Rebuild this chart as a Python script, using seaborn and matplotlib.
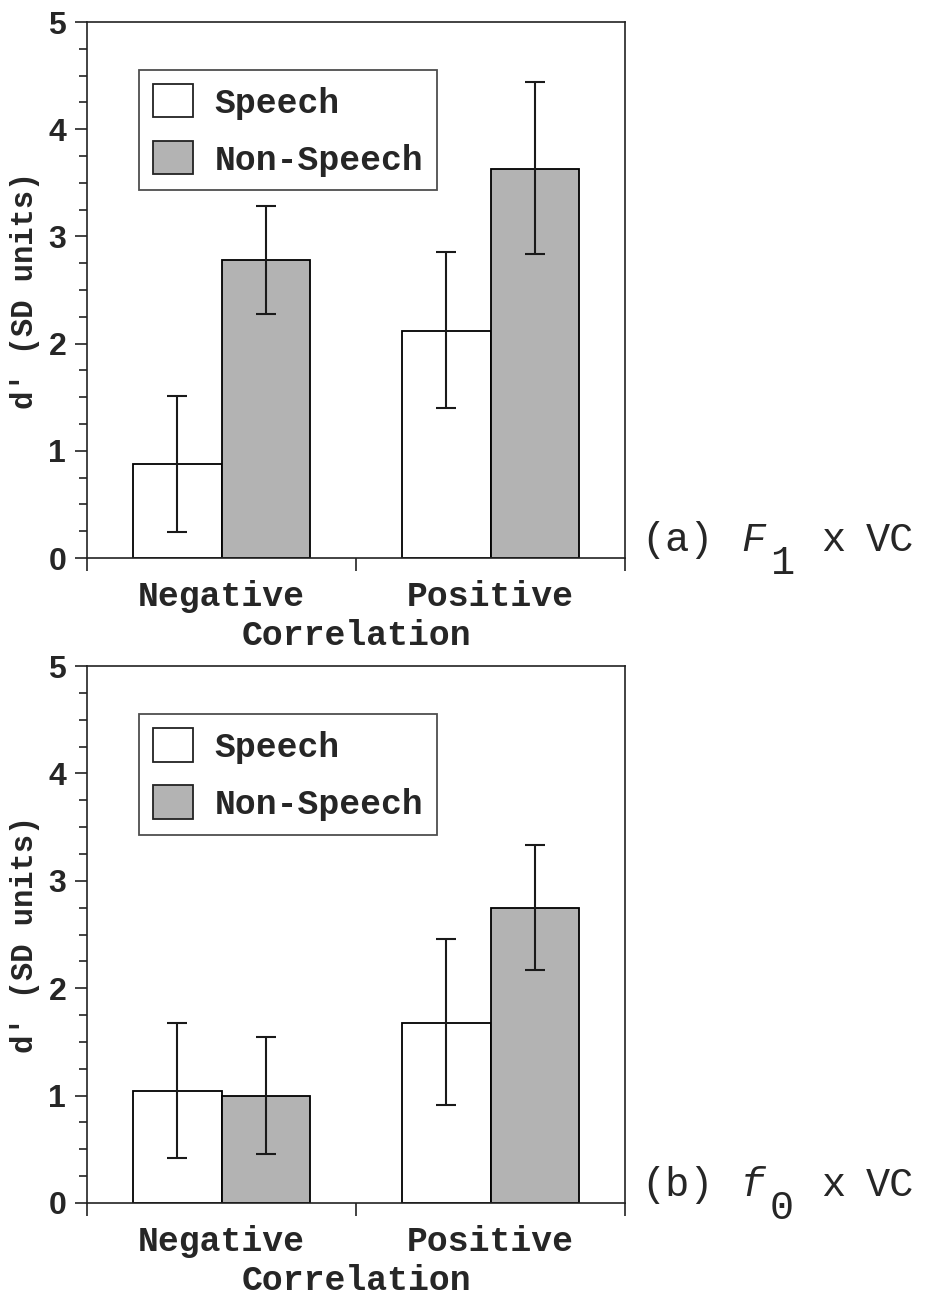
import numpy as np
import pandas as pd
import matplotlib
matplotlib.use("Agg")
import matplotlib.pyplot as plt
import seaborn as sns
from matplotlib.ticker import MultipleLocator, FixedLocator

# values
categories = ["Negative", "Positive"]
groups = ["Speech", "Non-Speech"]

f1_speech = [0.88, 2.12]
f1_speech_lo = [0.24, 1.40]
f1_speech_hi = [1.51, 2.85]
f1_nonspeech = [2.78, 3.63]
f1_nonspeech_lo = [2.28, 2.84]
f1_nonspeech_hi = [3.28, 4.44]

f0_speech = [1.04, 1.68]
f0_speech_lo = [0.42, 0.91]
f0_speech_hi = [1.68, 2.46]
f0_nonspeech = [1.00, 2.75]
f0_nonspeech_lo = [0.46, 2.17]
f0_nonspeech_hi = [1.55, 3.33]

sns.set_theme(style="ticks")
plt.rcParams['font.family'] = ['Liberation Mono', 'DejaVu Sans']

MONO = 'Liberation Mono'
GREY = '#b3b3b3'
W, H = 935, 1296


def make_frame(speech, nonspeech, lo_s, hi_s, lo_n, hi_n):
    rows = []
    for i, c in enumerate(categories):
        rows.append(dict(corr=c, group=groups[0], d=speech[i], lo=lo_s[i], hi=hi_s[i]))
    for i, c in enumerate(categories):
        rows.append(dict(corr=c, group=groups[1], d=nonspeech[i], lo=lo_n[i], hi=hi_n[i]))
    return pd.DataFrame(rows)


def draw_panel(ax, df):
    sns.barplot(data=df, x='corr', y='d', hue='group', order=categories,
                hue_order=groups, palette=['white', GREY], width=0.66,
                errorbar=None, edgecolor='black', linewidth=1.3, saturation=1,
                ax=ax)
    # error bars at the bar centres seaborn gave us
    for bars, g in zip(ax.containers, groups):
        sub = df[df['group'] == g].set_index('corr').loc[categories]
        xs = [b.get_x() + b.get_width() / 2 for b in bars]
        yerr = [sub['d'] - sub['lo'], sub['hi'] - sub['d']]
        ax.errorbar(xs, sub['d'], yerr=yerr, fmt='none', ecolor='#1a1a1a',
                    elinewidth=1.5, capsize=7.5, capthick=1.5, zorder=5)

    ax.set_xlim(-0.5, 1.5)
    ax.set_ylim(0, 5)
    ax.yaxis.set_major_locator(MultipleLocator(1))
    ax.yaxis.set_minor_locator(MultipleLocator(0.25))
    ax.tick_params(axis='y', which='major', direction='out', length=9, width=1.2,
                   color='#222222', pad=6, labelsize=23)
    ax.tick_params(axis='y', which='minor', direction='out', length=6, width=1.2,
                   color='#222222')
    for lab in ax.get_yticklabels():
        lab.set_fontfamily('Liberation Sans')
        lab.set_fontweight('bold')

    # boundary ticks under the axis, category names as label-only ticks
    ax.xaxis.set_major_locator(FixedLocator([0, 1]))
    ax.set_xticklabels(categories, fontfamily=MONO, fontweight='bold', fontsize=25)
    ax.xaxis.set_minor_locator(FixedLocator([-0.5, 0.5, 1.5]))
    ax.tick_params(axis='x', which='major', length=0, pad=16)
    ax.tick_params(axis='x', which='minor', direction='out', length=9, width=1.2,
                   color='#222222')

    ax.set_xlabel('Correlation', fontfamily=MONO, fontweight='bold', fontsize=25,
                  labelpad=4)
    ax.set_ylabel("d' (SD units)", fontfamily=MONO, fontweight='bold', fontsize=22,
                  labelpad=6)

    for s in ax.spines.values():
        s.set_linewidth(1.2)
        s.set_color('#222222')

    leg = ax.legend(loc='upper left', bbox_to_anchor=(0.097, 0.91),
                    borderaxespad=0, frameon=True, fancybox=False,
                    handlelength=1.15, handleheight=1.1, handletextpad=0.62,
                    labelspacing=0.62, borderpad=0.4,
                    prop=dict(family=MONO, weight='bold', size=25))
    leg.get_frame().set_edgecolor('#222222')
    leg.get_frame().set_linewidth(1.3)
    for h in leg.legend_handles:
        h.set_edgecolor('#222222')
        h.set_linewidth(1.3)


fig = plt.figure(figsize=(W / 100, H / 100), dpi=100)

ax_a = fig.add_axes([87 / W, 1 - 558 / H, 538 / W, 536 / H])
ax_b = fig.add_axes([87 / W, 1 - 1203 / H, 538 / W, 537 / H])

df_a = make_frame(f1_speech, f1_nonspeech, f1_speech_lo, f1_speech_hi,
                  f1_nonspeech_lo, f1_nonspeech_hi)
df_b = make_frame(f0_speech, f0_nonspeech, f0_speech_lo, f0_speech_hi,
                  f0_nonspeech_lo, f0_nonspeech_hi)
draw_panel(ax_a, df_a)
draw_panel(ax_b, df_b)


# panel captions to the right of each axes
def caption(base_y, tag, letter, sub):
    fs = 29
    fig.text(641 / W, 1 - base_y / H, tag, fontfamily=MONO, fontsize=fs,
             va='baseline', ha='left')
    fig.text(741 / W, 1 - base_y / H, letter, fontfamily=MONO, fontsize=fs,
             style='italic', va='baseline', ha='left')
    fig.text(770 / W, 1 - (base_y + 23) / H, sub, fontfamily=MONO, fontsize=fs,
             va='baseline', ha='left')
    fig.text(821 / W, 1 - base_y / H, 'x', fontfamily=MONO, fontsize=fs,
             va='baseline', ha='left')
    fig.text(866 / W, 1 - base_y / H, 'VC', fontfamily=MONO, fontsize=fs,
             va='baseline', ha='left')


caption(551, '(a)', 'F', '1')
caption(1196, '(b)', 'f', '0')

fig.savefig('out.png', dpi=100)
